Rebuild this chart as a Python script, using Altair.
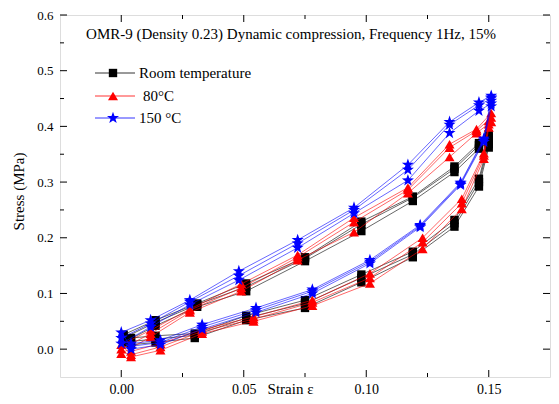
import altair as alt
import pandas as pd

# ---------------- data ----------------
series_names = ["Room temperature", " 80°C", "150 °C"]
series_colors = ["#000000", "#ff0000", "#0000ff"]

# Room temperature (black squares)
rt_load_x = [0.001, 0.014, 0.031, 0.051, 0.075, 0.098, 0.119, 0.136, 0.146, 0.150]
rt_load_y = [
    [0.012, 0.042, 0.076, 0.104, 0.158, 0.212, 0.266, 0.318, 0.360, 0.372],
    [0.020, 0.048, 0.080, 0.112, 0.163, 0.224, 0.272, 0.324, 0.366, 0.380],
    [0.026, 0.052, 0.082, 0.118, 0.165, 0.229, 0.274, 0.328, 0.370, 0.386],
]
rt_unload_x = [0.150, 0.146, 0.136, 0.119, 0.098, 0.075, 0.051, 0.030, 0.014, 0.004]
rt_unload_y = [
    [0.362, 0.292, 0.220, 0.165, 0.120, 0.074, 0.052, 0.020, 0.012, 0.008],
    [0.368, 0.300, 0.226, 0.170, 0.128, 0.082, 0.056, 0.025, 0.018, 0.014],
    [0.374, 0.306, 0.232, 0.175, 0.134, 0.088, 0.060, 0.028, 0.024, 0.020],
]

# 80 °C (red triangles)
t80_load_x = [0.000, 0.012, 0.028, 0.049, 0.072, 0.095, 0.117, 0.134, 0.145, 0.151]
t80_load_y = [
    [-0.008, 0.022, 0.066, 0.104, 0.160, 0.210, 0.280, 0.345, 0.388, 0.408],
    [0.000, 0.028, 0.070, 0.110, 0.165, 0.228, 0.286, 0.362, 0.392, 0.416],
    [0.008, 0.034, 0.072, 0.117, 0.169, 0.236, 0.290, 0.368, 0.395, 0.424],
]
t80_unload_x = [0.150, 0.148, 0.139, 0.123, 0.1015, 0.078, 0.054, 0.033, 0.016, 0.004]
t80_unload_y = [
    [0.398, 0.342, 0.252, 0.180, 0.118, 0.078, 0.050, 0.028, -0.002, -0.014],
    [0.404, 0.348, 0.262, 0.192, 0.128, 0.084, 0.054, 0.032, 0.004, -0.010],
    [0.410, 0.352, 0.270, 0.200, 0.136, 0.088, 0.058, 0.035, 0.010, -0.004],
]

# 150 °C (blue stars)
t150_load_x = [0.000, 0.012, 0.028, 0.048, 0.072, 0.095, 0.117, 0.134, 0.146, 0.151]
t150_load_y = [
    [0.010, 0.040, 0.080, 0.124, 0.182, 0.244, 0.303, 0.388, 0.428, 0.441],
    [0.020, 0.046, 0.085, 0.132, 0.190, 0.250, 0.322, 0.403, 0.438, 0.450],
    [0.030, 0.052, 0.088, 0.140, 0.196, 0.254, 0.331, 0.408, 0.443, 0.455],
]
t150_unload_x = [0.151, 0.148, 0.1385, 0.122, 0.1015, 0.078, 0.055, 0.033, 0.016, 0.004]
t150_unload_y = [
    [0.436, 0.372, 0.295, 0.219, 0.154, 0.100, 0.066, 0.036, 0.008, 0.000],
    [0.446, 0.375, 0.297, 0.221, 0.157, 0.104, 0.070, 0.040, 0.012, 0.005],
    [0.452, 0.378, 0.299, 0.223, 0.160, 0.107, 0.074, 0.044, 0.016, 0.010],
]

x_major = [0.0, 0.05, 0.10, 0.15]
x_minor = [0.025, 0.075, 0.125]
y_major = [0.0, 0.1, 0.2, 0.3, 0.4, 0.5, 0.6]
y_minor = [0.05, 0.15, 0.25, 0.35, 0.45, 0.55]

title_text = "OMR-9 (Density 0.23)  Dynamic compression, Frequency 1Hz, 15%"

# ---------------- layout / style ----------------
W, H = 490, 362
FONT = "Liberation Serif"
STAR = ("M0,-1L0.235,-0.324L0.951,-0.309L0.38,0.124L0.588,0.809L0,0.4"
        "L-0.588,0.809L-0.38,0.124L-0.951,-0.309L-0.235,-0.324Z")
shapes = ["square", "triangle-up", STAR]
sizes = [70, 100, 160]

xs = alt.Scale(domain=[-0.025, 0.175], nice=False, zero=False)
ys = alt.Scale(domain=[-0.05, 0.6], nice=False, zero=False)

x_axis = alt.Axis(
    values=x_major, format=".2f", ticks=False, tickSize=0, domain=False, grid=False,
    labelPadding=5, labelFont=FONT, labelFontSize=14, labelColor="#000",
    title="Strain ε", titleFont=FONT, titleFontSize=15, titleFontWeight="normal",
    titleColor="#000", titleX=230, titleY=16, titleBaseline="alphabetic")
y_axis = alt.Axis(
    values=y_major, format=".1f", ticks=False, tickSize=0, domain=False, grid=False,
    labelPadding=7, labelFont=FONT, labelFontSize=13, labelColor="#000",
    title="Stress (MPa)", titleFont=FONT, titleFontSize=15, titleFontWeight="normal",
    titleColor="#000", titleX=-34, titleY=176, titleBaseline="bottom")

def X(field):
    return alt.X(field, scale=xs, axis=x_axis)

def Y(field):
    return alt.Y(field, scale=ys, axis=y_axis)

all_data = [
    (rt_load_x, rt_load_y, rt_unload_x, rt_unload_y),
    (t80_load_x, t80_load_y, t80_unload_x, t80_unload_y),
    (t150_load_x, t150_load_y, t150_unload_x, t150_unload_y),
]

layers = []
for i, (lx, ly, ux, uy) in enumerate(all_data):
    rows = []
    k = 0
    for c in range(len(ly)):
        for x, y in zip(lx, ly[c]):
            rows.append({"strain": x, "stress": y, "ord": k}); k += 1
        for x, y in zip(ux, uy[c]):
            rows.append({"strain": x, "stress": y, "ord": k}); k += 1
    df = pd.DataFrame(rows)
    base = alt.Chart(df)
    line = base.mark_line(color=series_colors[i], strokeWidth=0.8, opacity=0.75).encode(
        x=X("strain:Q"), y=Y("stress:Q"), order="ord:Q")
    pts = base.mark_point(shape=shapes[i], filled=True, size=sizes[i],
                          color=series_colors[i], opacity=1, strokeWidth=0).encode(
        x=X("strain:Q"), y=Y("stress:Q"))
    layers += [line, pts]

# ticks (inward, on all four sides)
def xticks(vals, L):
    d = alt.Chart(pd.DataFrame({"strain": vals}))
    b = d.mark_rule(color="#000", strokeWidth=1).encode(
        x=X("strain:Q"), y=alt.value(H), y2=alt.value(H - L))
    t = d.mark_rule(color="#000", strokeWidth=1).encode(
        x=X("strain:Q"), y=alt.value(0), y2=alt.value(L))
    return [b, t]

def yticks(vals, L):
    d = alt.Chart(pd.DataFrame({"stress": vals}))
    l = d.mark_rule(color="#000", strokeWidth=1).encode(
        y=Y("stress:Q"), x=alt.value(0), x2=alt.value(L))
    r = d.mark_rule(color="#000", strokeWidth=1).encode(
        y=Y("stress:Q"), x=alt.value(W), x2=alt.value(W - L))
    return [l, r]

layers += xticks(x_major, 7) + xticks(x_minor, 4) + yticks(y_major, 7) + yticks(y_minor, 4)

# in-plot title
layers.append(alt.Chart(pd.DataFrame({"t": [title_text]})).mark_text(
    font=FONT, fontSize=15, color="#000", align="center", baseline="middle").encode(
    x=alt.value(231), y=alt.value(19), text="t:N"))

# legend
legend_rows_y = [58, 81, 103]
for i, name in enumerate(series_names):
    d = alt.Chart(pd.DataFrame({"label": [name]}))
    ry = legend_rows_y[i]
    layers.append(d.mark_rule(color=series_colors[i], strokeWidth=0.8).encode(
        x=alt.value(35), x2=alt.value(75), y=alt.value(ry)))
    layers.append(d.mark_point(shape=shapes[i], filled=True, size=sizes[i],
                               color=series_colors[i], opacity=1, strokeWidth=0).encode(
        x=alt.value(53), y=alt.value(ry)))
    layers.append(d.mark_text(font=FONT, fontSize=15, color="#000", align="left",
                              baseline="middle").encode(
        x=alt.value(79 if i != 1 else 83), y=alt.value(ry), text="label:N"))

chart = alt.layer(*layers).properties(
    width=W, height=H,
    autosize=alt.AutoSizeParams(type="none"),
    padding={"left": 52, "top": 7, "right": 1, "bottom": 19},
).configure_view(stroke="#000", strokeWidth=1).configure(background="white")

chart.save("out.html", embed_options={"renderer": "svg", "actions": False})
